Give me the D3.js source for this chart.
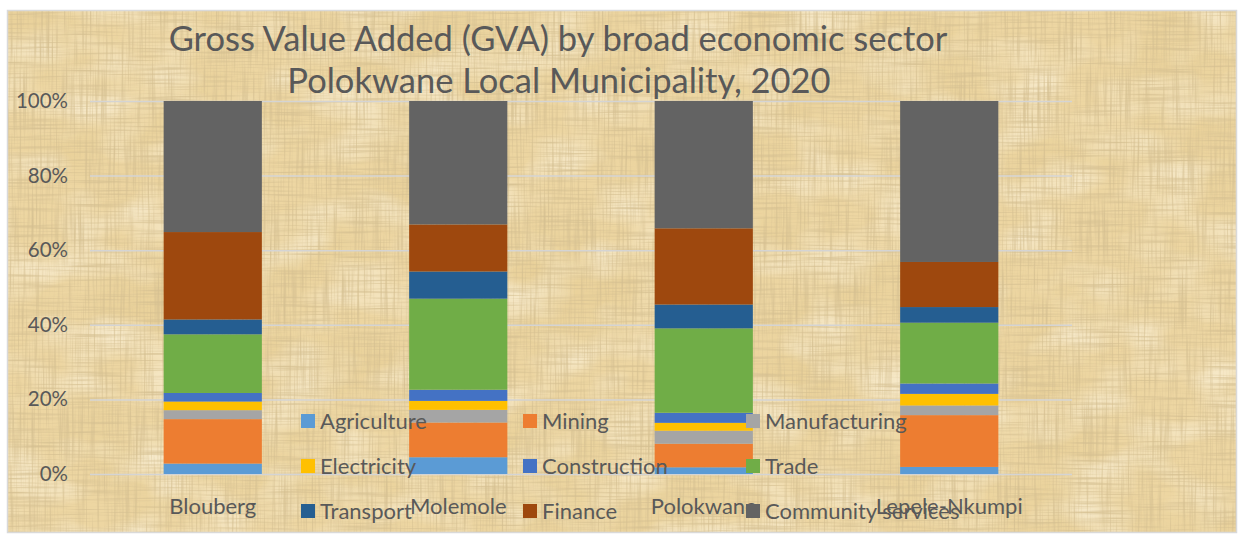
<!DOCTYPE html>
<html>
<head>
<meta charset="utf-8">
<script src="https://cdn.jsdelivr.net/npm/d3@7"></script>
<style>
  body { margin: 0; background: #fff; }
  text { font-family: Lato, "Open Sans", sans-serif; fill: #595959; }
</style>
</head>
<body>
<svg id="chart" width="1242" height="538"></svg>
<script>
// data (percent of municipal GVA)
var categories = ["Blouberg", "Molemole", "Polokwane", "Lepele-Nkumpi"];
var sectors = ["Agriculture", "Mining", "Manufacturing", "Electricity", "Construction",
               "Trade", "Transport", "Finance", "Community services"];
var agriculture   = [2.8, 4.5, 1.8, 1.9];
var mining        = [11.9, 9.3, 6.3, 13.9];
var manufacturing = [2.4, 3.4, 3.5, 2.6];
var electricity   = [2.3, 2.4, 2.1, 3.1];
var construction  = [2.3, 3.0, 2.7, 2.8];
var trade         = [15.7, 24.4, 22.6, 16.3];
var transport     = [4.0, 7.3, 6.4, 4.2];
var finance       = [23.4, 12.6, 20.4, 12.1];
var community     = [35.1, 33.1, 34.1, 43.2];
var yTicks = [0, 0.2, 0.4, 0.6, 0.8, 1];
var colors = ["#5B9BD5", "#ED7D31", "#A5A5A5", "#FFC000", "#4472C4",
              "#70AD47", "#255E91", "#9E480E", "#636363"];

var series = [agriculture, mining, manufacturing, electricity, construction,
              trade, transport, finance, community];
var rows = categories.map(function(c, i) {
    var r = {name: c};
    sectors.forEach(function(s, j) { r[s] = series[j][i]; });
    return r;
});

var svg = d3.select("#chart");
var plot = {left: 90, right: 1072, top: 101, bottom: 474};

// parchment background
var defs = svg.append("defs");
function noiseFilter(id, freq, oct, seed, rgb, k, c) {
    var f = defs.append("filter").attr("id", id)
        .attr("x", 0).attr("y", 0).attr("width", 1).attr("height", 1);
    f.append("feTurbulence").attr("type", "fractalNoise")
        .attr("baseFrequency", freq).attr("numOctaves", oct).attr("seed", seed);
    f.append("feColorMatrix").attr("type", "matrix")
        .attr("values", "0 0 0 0 " + rgb[0] + " 0 0 0 0 " + rgb[1] + " 0 0 0 0 " + rgb[2] + " " + k + " 0 0 0 " + c);
    f.append("feComposite").attr("in2", "SourceGraphic").attr("operator", "in");
}
noiseFilter("mottle", "0.008 0.012", 3, 4, [0.78, 0.6, 0.28], 1.1, -0.45);
noiseFilter("light", "0.015 0.025", 2, 9, [1, 0.96, 0.85], 1.3, -0.55);
noiseFilter("vert", "0.5 0.015", 2, 2, [0.66, 0.52, 0.28], 2.0, -0.9);
noiseFilter("horiz", "0.015 0.5", 2, 7, [0.66, 0.52, 0.28], 2.0, -0.9);

var bg = svg.append("g");
bg.append("rect").attr("x", 7).attr("y", 10).attr("width", 1230).attr("height", 523)
    .attr("fill", "#EDD6A2");
["mottle", "light", "vert", "horiz"].forEach(function(id) {
    bg.append("rect").attr("x", 7).attr("y", 10).attr("width", 1230).attr("height", 523)
        .attr("fill", "#000").attr("filter", "url(#" + id + ")");
});
svg.append("rect").attr("x", 7.5).attr("y", 10.5).attr("width", 1229).attr("height", 522)
    .attr("fill", "none").attr("stroke", "#D9D9D9").attr("stroke-width", 1.5);

// scales
var x = d3.scaleBand().domain(categories).range([plot.left, plot.right])
    .paddingInner(0.6).paddingOuter(0.3);
var y = d3.scaleLinear().domain([0, 1]).range([plot.bottom, plot.top]);
var color = d3.scaleOrdinal().domain(sectors).range(colors);

// gridlines
svg.append("g")
    .attr("transform", "translate(" + plot.left + ",0)")
    .call(d3.axisLeft(y).tickValues(yTicks).tickSize(-(plot.right - plot.left)).tickFormat(""))
    .call(function(g) { g.select(".domain").remove(); })
    .selectAll("line").attr("stroke", "#D4D4D4").attr("stroke-width", 1.5);

// stacked bars
var stack = d3.stack().keys(sectors).offset(d3.stackOffsetExpand);
svg.append("g").selectAll("g")
    .data(stack(rows))
    .join("g")
    .attr("fill", function(d) { return color(d.key); })
    .selectAll("rect")
    .data(function(d) { return d; })
    .join("rect")
    .attr("x", function(d) { return x(d.data.name); })
    .attr("y", function(d) { return y(d[1]); })
    .attr("width", x.bandwidth())
    .attr("height", function(d) { return y(d[0]) - y(d[1]); });

// axes
var yAxis = svg.append("g")
    .attr("transform", "translate(" + plot.left + ",0)")
    .call(d3.axisLeft(y).tickValues(yTicks).tickFormat(d3.format(".0%")).tickSize(0).tickPadding(22));
yAxis.select(".domain").remove();
yAxis.selectAll("text").style("font-size", "20.5px").attr("fill", "#595959");

var xAxis = svg.append("g")
    .attr("transform", "translate(0," + plot.bottom + ")")
    .call(d3.axisBottom(x).tickSize(0).tickPadding(24));
xAxis.select(".domain").remove();
xAxis.selectAll("text").style("font-size", "22px").attr("fill", "#595959");

// title
var title = svg.append("g").attr("text-anchor", "middle").style("font-size", "34.5px");
title.append("text").attr("x", 558).attr("y", 51)
    .text("Gross Value Added (GVA) by broad economic sector");
title.append("text").attr("x", 559).attr("y", 93)
    .text("Polokwane Local Municipality, 2020");

// legend, 3 per row
var legCols = [301, 523, 746], legRows = [421, 466, 511];
var legend = svg.append("g").selectAll("g")
    .data(sectors)
    .join("g")
    .attr("transform", function(d, i) {
        return "translate(" + legCols[i % 3] + "," + legRows[Math.floor(i / 3)] + ")";
    });
legend.append("rect").attr("y", -7).attr("width", 14).attr("height", 14)
    .attr("fill", function(d) { return color(d); });
legend.append("text").attr("x", 19).attr("dy", "0.35em")
    .style("font-size", "22px").text(function(d) { return d; });
</script>
</body>
</html>
